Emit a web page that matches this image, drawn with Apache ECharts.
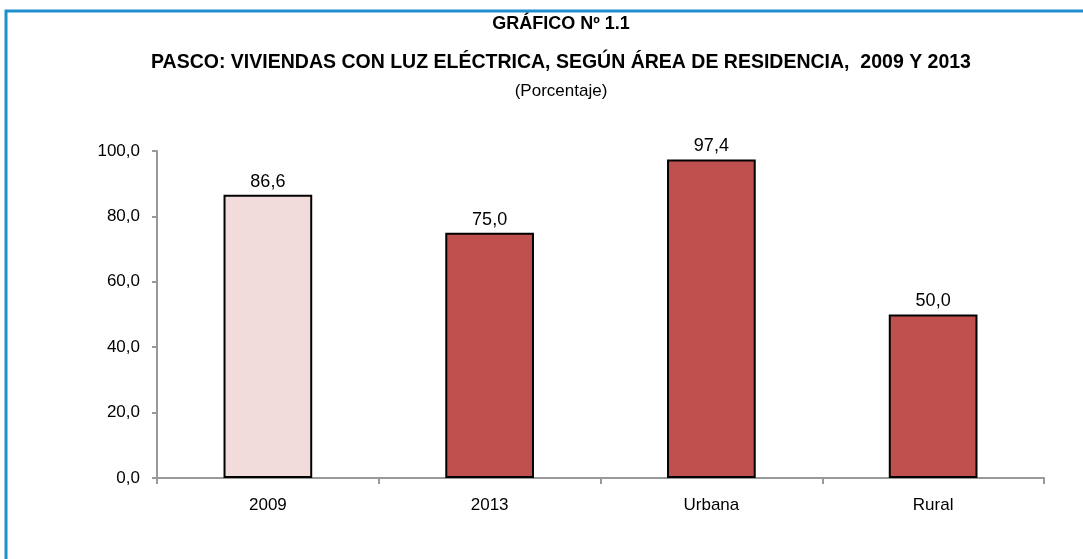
<!DOCTYPE html>
<html>
<head>
<meta charset="utf-8">
<script src="https://cdn.jsdelivr.net/npm/echarts@6/dist/echarts.min.js"></script>
<style>
  html, body { margin: 0; padding: 0; background: #fff; }
  #chart { width: 1083px; height: 559px; }
</style>
</head>
<body>
<div id="chart"></div>
<script>
const categories = ['2009', '2013', 'Urbana', 'Rural']
const values = [86.6, 75.0, 97.4, 50.0]
const barColors = ['#f2dcdb', '#c0504d', '#c0504d', '#c0504d']
const titleLines = [
  'GRÁFICO Nº 1.1',
  'PASCO: VIVIENDAS CON LUZ ELÉCTRICA, SEGÚN ÁREA DE RESIDENCIA,  2009 Y 2013',
  '(Porcentaje)'
]

const font = '"Liberation Sans", Arial, sans-serif'
const fmt = v => Number(v).toFixed(1).replace('.', ',')

var myChart = echarts.init(document.getElementById('chart'))

const option = {
  animation: false,
  graphic: [
    {
      type: 'rect',
      shape: { x: 6, y: 11, width: 1200, height: 700 },
      style: { fill: 'none', stroke: '#1f8fce', lineWidth: 3 }
    }
  ],
  title: [
    {
      text: titleLines[0],
      left: 556, top: 10, textAlign: 'center',
      textStyle: { fontFamily: font, fontSize: 18, fontWeight: 'bold', color: '#000' }
    },
    {
      text: titleLines[1],
      left: 556, top: 48, textAlign: 'center',
      textStyle: { fontFamily: font, fontSize: 19.5, fontWeight: 'bold', color: '#000' }
    },
    {
      text: titleLines[2],
      left: 556, top: 78, textAlign: 'center',
      textStyle: { fontFamily: font, fontSize: 17, fontWeight: 'normal', color: '#000' }
    }
  ],
  grid: { left: 157, right: 39, top: 151, bottom: 81, containLabel: false },
  xAxis: {
    type: 'category',
    data: categories,
    axisLine: { lineStyle: { color: '#999', width: 2 } },
    axisTick: { show: true, length: 6, lineStyle: { color: '#999', width: 2 } },
    axisLabel: { fontFamily: font, fontSize: 17, color: '#000', margin: 19 }
  },
  yAxis: {
    type: 'value',
    min: 0,
    max: 100,
    interval: 20,
    splitLine: { show: false },
    axisLine: { show: true, lineStyle: { color: '#999', width: 2 } },
    axisTick: { show: true, length: 5, lineStyle: { color: '#999', width: 2 } },
    axisLabel: { fontFamily: font, fontSize: 17, color: '#000', margin: 17, formatter: fmt }
  },
  series: [
    {
      type: 'bar',
      barWidth: '40%',
      data: values.map((v, i) => ({
        value: v,
        itemStyle: { color: barColors[i] }
      })),
      itemStyle: { borderColor: '#000', borderWidth: 2 },
      label: {
        show: true,
        position: 'top',
        distance: 4,
        fontFamily: font,
        fontSize: 18,
        color: '#000',
        formatter: p => fmt(p.value)
      }
    }
  ]
}

myChart.setOption(option)
</script>
</body>
</html>
